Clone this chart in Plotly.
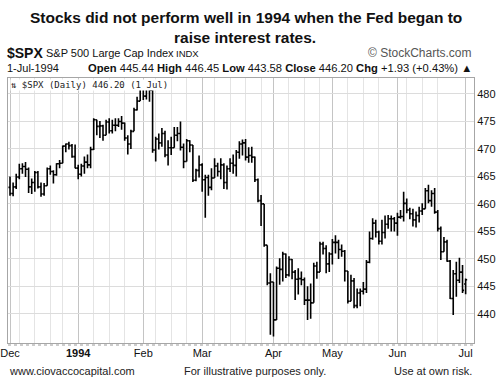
import plotly.graph_objects as go
import pandas as pd

# ---------------- data (S&P 500 daily bars) ----------------
dates = [
    "1993-12-01","1993-12-02","1993-12-03","1993-12-06","1993-12-07","1993-12-08","1993-12-09","1993-12-10",
    "1993-12-13","1993-12-14","1993-12-15","1993-12-16","1993-12-17","1993-12-20","1993-12-21","1993-12-22",
    "1993-12-23","1993-12-27","1993-12-28","1993-12-29","1993-12-30","1993-12-31",
    "1994-01-03","1994-01-04","1994-01-05","1994-01-06","1994-01-07","1994-01-10","1994-01-11","1994-01-12",
    "1994-01-13","1994-01-14","1994-01-17","1994-01-18","1994-01-19","1994-01-20","1994-01-21","1994-01-24",
    "1994-01-25","1994-01-26","1994-01-27","1994-01-28","1994-01-31",
    "1994-02-01","1994-02-02","1994-02-03","1994-02-04","1994-02-07","1994-02-08","1994-02-09","1994-02-10",
    "1994-02-11","1994-02-14","1994-02-15","1994-02-16","1994-02-17","1994-02-18","1994-02-22","1994-02-23",
    "1994-02-24","1994-02-25","1994-02-28",
    "1994-03-01","1994-03-02","1994-03-03","1994-03-04","1994-03-07","1994-03-08","1994-03-09","1994-03-10",
    "1994-03-11","1994-03-14","1994-03-15","1994-03-16","1994-03-17","1994-03-18","1994-03-21","1994-03-22",
    "1994-03-23","1994-03-24","1994-03-25","1994-03-28","1994-03-29","1994-03-30","1994-03-31",
    "1994-04-04","1994-04-05","1994-04-06","1994-04-07","1994-04-08","1994-04-11","1994-04-12","1994-04-13",
    "1994-04-14","1994-04-15","1994-04-18","1994-04-19","1994-04-20","1994-04-21","1994-04-22","1994-04-25",
    "1994-04-26","1994-04-28","1994-04-29",
    "1994-05-02","1994-05-03","1994-05-04","1994-05-05","1994-05-06","1994-05-09","1994-05-10","1994-05-11",
    "1994-05-12","1994-05-13","1994-05-16","1994-05-17","1994-05-18","1994-05-19","1994-05-20","1994-05-23",
    "1994-05-24","1994-05-25","1994-05-26","1994-05-27","1994-05-31",
    "1994-06-01","1994-06-02","1994-06-03","1994-06-06","1994-06-07","1994-06-08","1994-06-09","1994-06-10",
    "1994-06-13","1994-06-14","1994-06-15","1994-06-16","1994-06-17","1994-06-20","1994-06-21","1994-06-22",
    "1994-06-23","1994-06-24","1994-06-27","1994-06-28","1994-06-29","1994-06-30",
    "1994-07-01",
]

opens = [
    463.0,461.9,463.1,464.9,466.4,466.8,466.3,463.1,463.9,465.7,463.1,461.8,463.3,466.4,465.9,465.3,467.3,467.4,470.5,470.9,470.6,468.6,
    466.5,465.4,466.9,467.6,467.1,469.9,475.3,474.1,474.2,472.5,474.9,473.3,474.3,474.3,475.0,474.7,472.0,470.9,473.2,477.1,478.7,
    481.6,479.6,481.6,480.7,469.8,471.8,471.1,472.8,468.9,470.2,470.2,472.5,472.8,470.3,467.7,471.5,470.7,464.3,466.1,
    467.1,464.4,464.8,463.0,464.7,466.9,465.9,467.1,463.9,466.4,467.4,467.0,469.4,470.9,471.1,468.5,468.8,468.5,464.4,460.6,460.0,452.5,445.6,
    445.8,438.9,448.3,448.1,450.9,447.1,449.9,447.6,446.3,446.4,446.2,442.5,442.5,442.0,448.7,447.6,452.7,451.9,449.1,
    450.9,453.0,453.0,451.7,451.4,447.8,442.3,446.0,441.5,443.8,444.1,444.5,449.4,453.7,456.5,454.9,453.2,454.8,456.3,457.3,457.3,
    456.5,457.6,457.7,460.1,458.9,458.2,457.1,457.9,458.7,459.1,462.4,460.6,461.9,458.5,455.5,451.3,453.1,449.6,442.8,447.3,446.1,447.6,
    445.44,
]
highs = [
    465.0,463.9,465.5,467.3,467.4,467.6,466.6,464.6,466.0,466.0,463.9,463.8,466.6,467.0,466.1,467.4,468.0,470.6,471.0,471.3,470.9,470.8,
    467.1,467.3,468.6,469.0,470.4,475.6,475.3,475.1,474.4,475.3,475.6,475.3,475.6,475.6,476.0,474.8,472.5,473.5,477.5,479.5,481.6,
    481.6,481.8,481.6,481.0,472.2,472.8,473.8,473.3,471.6,472.2,474.0,474.0,475.0,471.0,471.8,471.6,470.7,466.4,468.8,
    467.4,465.3,465.3,466.5,468.3,467.5,468.3,467.4,467.0,468.3,469.0,469.8,471.4,471.7,471.8,470.3,470.4,468.6,464.6,461.6,460.0,452.5,447.4,
    445.8,448.6,450.1,451.3,451.0,450.5,450.0,448.0,448.3,447.7,446.6,445.0,445.5,449.3,449.5,453.1,453.1,452.5,451.2,
    453.6,454.3,453.5,452.6,451.6,447.8,447.1,446.5,444.6,444.6,445.8,449.8,455.0,457.4,457.1,455.1,457.1,457.9,458.0,457.9,457.6,
    458.4,458.9,462.2,461.0,459.3,459.1,458.6,459.5,460.1,462.9,463.5,462.5,462.9,458.9,455.9,454.0,453.5,449.8,448.0,449.5,450.2,448.9,
    446.45,
]
lows = [
    461.5,461.4,462.7,464.5,465.5,464.9,462.0,461.8,462.2,462.8,461.3,461.5,463.3,465.3,463.7,465.1,466.5,467.4,469.4,469.9,468.4,466.5,
    464.5,465.0,465.5,466.5,466.5,469.8,472.5,472.0,471.5,472.5,472.8,472.8,473.2,474.0,473.5,471.5,469.0,470.0,473.2,477.0,478.7,
    478.9,479.0,478.6,469.3,467.7,469.9,470.4,468.5,467.0,468.9,470.2,471.4,469.7,466.5,467.7,469.4,464.0,464.1,464.8,
    462.2,457.5,461.5,462.5,464.7,465.0,464.5,462.7,462.6,465.8,465.5,465.0,468.2,468.8,467.9,467.5,467.5,464.0,460.3,456.0,452.2,445.2,436.2,
    435.9,438.9,445.3,445.9,446.5,446.8,446.3,442.5,443.5,445.2,441.6,438.9,439.1,442.0,446.4,447.6,450.8,447.4,447.6,
    449.0,451.0,450.0,450.4,445.9,441.9,442.3,441.0,441.0,441.4,443.5,443.8,449.2,453.5,453.9,452.6,452.6,453.7,455.5,455.0,455.0,
    454.2,457.3,456.8,458.3,457.2,455.9,455.7,456.6,458.0,459.1,460.1,459.5,458.2,455.0,449.8,451.3,449.5,442.7,439.8,443.1,445.6,443.8,
    443.58,
]
closes = [
    461.9,463.1,464.9,466.4,466.8,466.3,463.1,463.9,465.7,463.1,461.8,463.3,466.4,465.9,465.3,467.3,467.4,470.5,470.9,470.6,468.6,466.5,
    465.4,466.9,467.6,467.1,469.9,475.3,474.1,474.2,472.5,474.9,473.3,474.3,474.3,475.0,474.7,472.0,470.9,473.2,477.1,478.7,481.4,
    479.6,481.6,480.7,469.8,471.8,471.1,472.8,468.9,470.2,470.2,472.5,472.8,470.3,467.7,471.5,470.7,464.3,466.1,467.1,
    464.4,464.8,463.0,464.7,466.9,465.9,467.1,463.9,466.4,467.4,467.0,469.4,470.9,471.1,468.5,468.8,468.5,464.4,460.6,460.0,452.5,445.6,445.8,
    438.9,448.3,448.1,450.9,447.1,449.9,447.6,446.3,446.4,446.2,442.5,442.5,442.0,448.7,447.6,452.7,451.9,449.1,450.9,
    453.0,453.0,451.7,451.4,447.8,442.3,446.0,441.5,443.8,444.1,444.5,449.4,453.7,456.5,454.9,453.2,454.8,456.3,457.3,457.3,456.5,
    457.6,457.7,460.1,458.9,458.2,457.1,457.9,458.7,459.1,462.4,460.6,461.9,458.5,455.5,451.3,453.1,449.6,442.8,447.3,446.1,447.6,444.27,
    446.20,
]

month_labels = ["Dec", "1994", "Feb", "Mar", "Apr", "May", "Jun", "Jul"]
bold_labels = ["1994"]
price_ticks = [440, 445, 450, 455, 460, 465, 470, 475, 480]

title_lines = ["Stocks did not perform well in 1994 when the Fed began to", "raise interest rates."]

# ---------------- derived positions ----------------
dts = pd.to_datetime(dates)
n = len(dates)
idx = list(range(n))
month_idx = [i for i in range(n) if i == 0 or dts[i].month != dts[i - 1].month]
ticktext = ["<b>%s</b>" % t if t in bold_labels else t for t in month_labels]

weeks = {}
for i in range(n):
    iso = dts[i].isocalendar()
    weeks.setdefault((iso[0], iso[1]), []).append(i)
week_idx = []
for k, members in weeks.items():
    ms = [m for m in members if m in month_idx]
    week_idx.append(ms[0] if ms else members[0])

FONT = "Liberation Sans, Arial, sans-serif"

fig = go.Figure()
fig.add_trace(go.Ohlc(
    x=idx, open=opens, high=highs, low=lows, close=closes,
    increasing=dict(line=dict(color="black", width=1.6)),
    decreasing=dict(line=dict(color="black", width=1.6)),
    tickwidth=0.5, hoverinfo="skip",
))

L, R, T, B = 8, 474, 78, 343
W, H = 499, 386


def px(x):
    return (x - L) / (R - L)


def py(y):
    return (B - y) / (B - T)


fig.update_layout(
    width=W, height=H,
    margin=dict(l=L, r=W - R, t=T, b=H - B, pad=0, autoexpand=False),
    paper_bgcolor="white", plot_bgcolor="white",
    showlegend=False,
    font=dict(family=FONT, size=11, color="#111"),
    xaxis=dict(
        range=[-0.65, 149.7], tickmode="array", tickvals=month_idx, ticktext=ticktext,
        showgrid=True, gridcolor="#c4c4c4", gridwidth=1,
        minor=dict(tickmode="array", tickvals=week_idx, showgrid=True, gridcolor="#e4e4e4", gridwidth=1),
        showline=True, mirror=True, linecolor="#a6a6a6", linewidth=1,
        zeroline=False, ticks="", rangeslider=dict(visible=False), automargin=False,
        tickfont=dict(family=FONT, size=11, color="#111"), fixedrange=True,
    ),
    yaxis=dict(
        side="right", range=[434.7, 482.9], tickmode="array", tickvals=price_ticks,
        showgrid=True, gridcolor="#dcdcdc", gridwidth=1,
        showline=True, mirror=True, linecolor="#a6a6a6", linewidth=1,
        zeroline=False, ticks="", automargin=False,
        tickfont=dict(family=FONT, size=11, color="#111"),
    ),
)

# dotted day-tick strip under the plot
fig.add_shape(type="line", xref="paper", yref="paper", x0=0, x1=1, y0=py(345), y1=py(345),
              line=dict(color="#9a9a9a", width=1, dash="dot"))

chg = closes[-1] - closes[-2]
pct = chg / closes[-2] * 100

ann = []
ann.append(dict(text="<b>%s</b>" % title_lines[0], x=px(246), y=py(17), font=dict(size=15.5, color="#111", family=FONT)))
ann.append(dict(text="<b>%s</b>" % title_lines[1], x=px(245), y=py(37), font=dict(size=15.5, color="#111", family=FONT)))
ann.append(dict(text="<b>$SPX</b>", x=px(5), y=py(53), xanchor="left", font=dict(size=14, color="#111", family=FONT)))
ann.append(dict(text="S&P 500 Large Cap Index", x=px(44), y=py(53), xanchor="left", font=dict(size=11, color="#111", family=FONT)))
ann.append(dict(text="INDX", x=px(174), y=py(53), xanchor="left", font=dict(size=9.5, color="#111", family=FONT)))
ann.append(dict(text="© StockCharts.com", x=px(474), y=py(53), xanchor="right", font=dict(size=12, color="#555", family=FONT)))
ann.append(dict(text="1-Jul-1994", x=px(5), y=py(68), xanchor="left", font=dict(size=11, color="#111", family=FONT)))
ohlc_txt = ("<b>Open</b> %.2f <b>High</b> %.2f <b>Low</b> %.2f <b>Close</b> %.2f <b>Chg</b> +%.2f (+%.2f%%) ▲"
            % (opens[-1], highs[-1], lows[-1], closes[-1], chg, pct))
ann.append(dict(text=ohlc_txt, x=px(474), y=py(68), xanchor="right", font=dict(size=11.2, color="#111", family=FONT)))
ann.append(dict(text="⇅ $SPX (Daily) %.2f (1 Jul)" % closes[-1], x=px(10), y=py(85), xanchor="left",
                bgcolor="white", borderpad=0, font=dict(size=9, color="#222", family="DejaVu Sans Mono, monospace")))
ann.append(dict(text="www.ciovaccocapital.com", x=px(7), y=py(371), xanchor="left", font=dict(size=11, color="#222", family=FONT)))
ann.append(dict(text="For illustrative purposes only.", x=px(182), y=py(371), xanchor="left", font=dict(size=11, color="#222", family=FONT)))
ann.append(dict(text="Use at own risk.", x=px(474), y=py(371), xanchor="right", font=dict(size=11, color="#222", family=FONT)))

for a in ann:
    a.update(xref="paper", yref="paper", showarrow=False, yanchor="middle")
    a.setdefault("xanchor", "center")
fig.update_layout(annotations=ann)

fig.write_html("out.html", config={"displayModeBar": False},
               post_script="document.body.style.margin='0px';")
